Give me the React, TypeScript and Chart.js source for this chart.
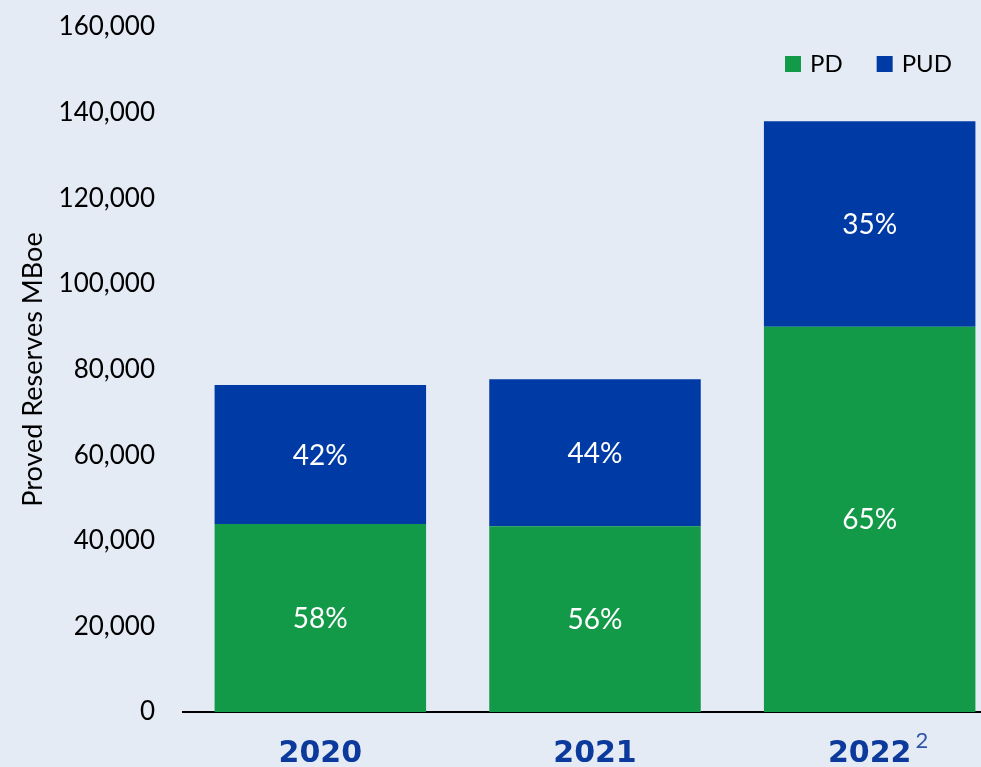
import React, { useEffect, useRef } from "react";
import { Chart, registerables } from "chart.js";

Chart.register(...registerables);

const categories = ["2020", "2021", "2022"];
const footnotes = ["", "", "2"];
const pdValues = [43900, 43400, 90000];
const pudValues = [32500, 34300, 48000];
const pdLabels = ["58%", "56%", "65%"];
const pudLabels = ["42%", "44%", "35%"];
const seriesNames = ["PD", "PUD"];

const GREEN = "#129A48";
const BLUE = "#003AA5";
const BG = "#E5EBF5";
const YEAR_COLOR = "#0B3A9C";
const FONT = "Lato, 'Open Sans', sans-serif";
const YEAR_FONT = "'DejaVu Sans', sans-serif";

const segmentLabelPlugin = {
  id: "segmentLabels",
  afterDatasetsDraw(chart: any) {
    const ctx = chart.ctx;
    ctx.save();
    ctx.fillStyle = "#FFFFFF";
    ctx.font = `28px ${FONT}`;
    ctx.textAlign = "center";
    ctx.textBaseline = "middle";
    const labelSets = [pdLabels, pudLabels];
    chart.data.datasets.forEach((_ds: any, di: number) => {
      const meta = chart.getDatasetMeta(di);
      meta.data.forEach((bar: any, i: number) => {
        const cy = (bar.y + bar.base) / 2;
        ctx.fillText(labelSets[di][i], bar.x, cy + 1);
      });
    });
    ctx.restore();
  },
};

const extrasPlugin = {
  id: "extras",
  afterDraw(chart: any) {
    const ctx = chart.ctx;
    const xScale = chart.scales.x;
    ctx.save();
    // footnote superscripts on category labels
    footnotes.forEach((fn, i) => {
      if (!fn) return;
      ctx.font = `bold 30px ${YEAR_FONT}`;
      const w = ctx.measureText(categories[i]).width;
      const x = xScale.getPixelForValue(i) + w / 2 + 4;
      ctx.font = `22px ${FONT}`;
      ctx.fillStyle = "#2F55A8";
      ctx.textAlign = "left";
      ctx.textBaseline = "alphabetic";
      ctx.fillText(fn, x, 748);
    });
    // legend
    const colors = [GREEN, BLUE];
    let lx = 785;
    ctx.font = `24px ${FONT}`;
    ctx.textBaseline = "middle";
    ctx.textAlign = "left";
    seriesNames.forEach((name, i) => {
      ctx.fillStyle = colors[i];
      ctx.fillRect(lx, 56, 16, 16);
      ctx.fillStyle = "#000000";
      ctx.fillText(name, lx + 25, 64);
      lx += 25 + ctx.measureText(name).width + 34;
    });
    ctx.restore();
  },
};

export default function App() {
  const canvasRef = useRef<HTMLCanvasElement | null>(null);

  useEffect(() => {
    if (!canvasRef.current) return;
    const chart = new Chart(canvasRef.current, {
      type: "bar",
      data: {
        labels: categories,
        datasets: [
          { label: seriesNames[0], data: pdValues, backgroundColor: GREEN },
          { label: seriesNames[1], data: pudValues, backgroundColor: BLUE },
        ],
      },
      options: {
        responsive: false,
        animation: false,
        layout: { padding: { left: 14, right: 3, top: 27, bottom: 0 } },
        plugins: {
          legend: { display: false },
          tooltip: { enabled: false },
        },
        datasets: {
          bar: { barPercentage: 0.77, categoryPercentage: 1 },
        },
        scales: {
          x: {
            stacked: true,
            grid: { display: false, drawTicks: false },
            border: { display: true, color: "#000000", width: 2 },
            ticks: {
              color: YEAR_COLOR,
              font: { family: YEAR_FONT, size: 30, weight: "bold" },
              padding: 24,
              maxRotation: 0,
            },
            afterFit: (scale: any) => {
              scale.height = 55;
            },
          },
          y: {
            stacked: true,
            min: 0,
            max: 160000,
            grid: { display: false, drawTicks: false },
            border: { display: false },
            ticks: {
              stepSize: 20000,
              color: "#000000",
              padding: 28,
              font: { family: FONT, size: 26 },
              callback: (v: any) => Number(v).toLocaleString("en-US"),
            },
            title: {
              display: true,
              text: "Proved Reserves MBoe",
              color: "#000000",
              font: { family: FONT, size: 27 },
              padding: { top: 3, bottom: 4 },
            },
            afterFit: (scale: any) => {
              scale.width = 169;
              scale.paddingTop = 0;
              scale.paddingBottom = 0;
            },
          },
        },
      },
      plugins: [segmentLabelPlugin, extrasPlugin],
    });
    return () => chart.destroy();
  }, []);

  return (
    <div
      style={{
        position: "fixed",
        left: 0,
        top: 0,
        width: 981,
        height: 767,
        overflow: "hidden",
        background: BG,
      }}
    >
      <canvas ref={canvasRef} width={1010} height={767} style={{ display: "block" }} />
    </div>
  );
}
